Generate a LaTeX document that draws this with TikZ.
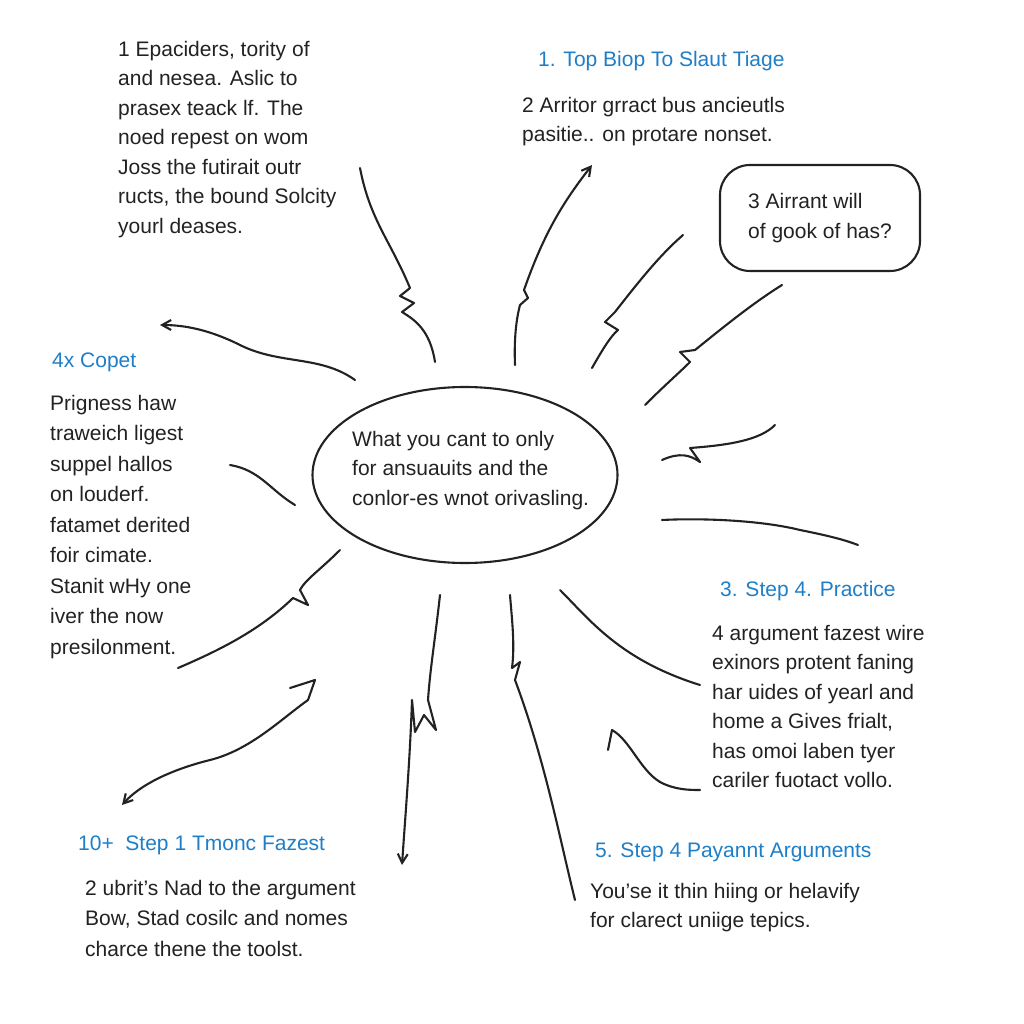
\documentclass[tikz,border=0pt]{standalone}
\usepackage{fontspec}
\setmainfont{Liberation Sans}
\usetikzlibrary{shapes.geometric,arrows.meta}
\definecolor{ink}{HTML}{222222}
\definecolor{blueink}{HTML}{1E7FC8}
\begin{document}
\begin{tikzpicture}[x=1pt,y=-1pt,
  txt/.style={anchor=north west,align=left,inner sep=0pt,text=ink,font=\fontsize{21}{29.5}\selectfont},
  head/.style={anchor=north west,inner sep=0pt,text=blueink,font=\fontsize{21}{26}\selectfont},
  pen/.style={draw=ink,line width=2.1pt,line cap=round,line join=round},
  tip/.style={-{Straight Barb[length=9pt,width=10pt]}}]
\useasboundingbox[fill=white] (0,0) rectangle (1024,1024);
\node[txt] (t1) at (118,41) {1 Epaciders, tority of\\and nesea. Aslic to\\prasex teack lf. The\\noed repest on wom\\Joss the futirait outr\\ructs, the bound Solcity\\yourl deases.};
\node[head] (h1) at (538,51) {1. Top Biop To Slaut Tiage};
\node[txt] (t2) at (522,97) {2 Arritor grract bus ancieutls\\pasitie.. on protare nonset.};
\node[pen,rounded corners=30pt,minimum width=200pt,minimum height=106pt,align=left,text=ink,font=\fontsize{21}{30}\selectfont] (b3) at (820,218) {3 Airrant will\\of gook of has?};
\node[head] (h4) at (52,353) {4x Copet};
\node[txt,font=\fontsize{21}{30.5}\selectfont] (t4) at (50,395) {Prigness haw\\traweich ligest\\suppel hallos\\on louderf.\\fatamet derited\\foir cimate.\\Stanit wHy one\\iver the now\\presilonment.};
\node[pen,ellipse,minimum width=305pt,minimum height=176pt] (c) at (465,475) {};
\node[txt,align=left] (ct) at (352,431) {What you cant to only\\for ansuauits and the\\conlor-es wnot orivasling.};
\node[head] (h5) at (720,581) {3. Step 4. Practice};
\node[txt] (t5) at (712,625) {4 argument fazest wire\\exinors protent faning\\har uides of yearl and\\home a Gives frialt,\\has omoi laben tyer\\cariler fuotact vollo.};
\node[head] (h6) at (78,836) {10+ \ Step 1 Tmonc Fazest};
\node[txt,font=\fontsize{21}{30.5}\selectfont] (t6) at (85,880) {2 ubrit's Nad to the argument\\Bow, Stad cosilc and nomes\\charce thene the toolst.};
\node[head] (h7) at (595,843) {5. Step 4 Payannt Arguments};
\node[txt] (t7) at (590,883) {You'se it thin hiing or helavify\\for clarect uniige tepics.};
% connectors
\draw[pen] (435,362) .. controls (430,330) and (415,320) .. (402,312) -- (414,303) -- (400,296) -- (410,288) .. controls (390,240) and (370,220) .. (360,168);
\draw[pen,tip] (515,365) .. controls (514,340) and (516,320) .. (520,305) -- (528,298) -- (524,290) .. controls (545,230) and (565,200) .. (592,165);
\draw[pen] (592,368) .. controls (605,345) and (612,335) .. (618,330) -- (605,322) -- (615,312) .. controls (640,280) and (660,255) .. (683,235);
\draw[pen] (645,405) .. controls (665,385) and (680,372) .. (690,362) -- (680,352) -- (695,350) .. controls (720,330) and (750,305) .. (782,285);
\draw[pen] (662,460) .. controls (680,452) and (690,455) .. (700,462) -- (690,448) .. controls (730,445) and (760,440) .. (775,425);
\draw[pen] (662,520) .. controls (700,518) and (760,520) .. (800,530) .. controls (830,536) and (845,540) .. (858,545);
\draw[pen,tip] (355,380) .. controls (320,355) and (280,365) .. (240,345) .. controls (210,330) and (185,325) .. (160,325);
\draw[pen] (230,465) .. controls (260,470) and (270,490) .. (295,505);
\draw[pen] (340,550) .. controls (320,570) and (305,580) .. (300,590) -- (308,605) -- (293,598) .. controls (260,630) and (220,650) .. (178,668);
\draw[pen,tip] (290,688) -- (315,680) -- (308,700) .. controls (280,720) and (250,750) .. (210,760) .. controls (170,770) and (140,785) .. (122,805);
\draw[pen,tip] (440,595) .. controls (435,640) and (430,670) .. (428,700) -- (436,730) -- (424,715) -- (415,732) -- (412,700) .. controls (410,760) and (405,820) .. (402,865);
\draw[pen] (510,595) .. controls (512,620) and (515,645) .. (512,668) -- (520,662) -- (515,680) .. controls (545,760) and (560,840) .. (575,900);
\draw[pen] (560,590) .. controls (590,620) and (620,660) .. (700,685);
\draw[pen] (608,750) -- (612,730) .. controls (630,740) and (640,770) .. (660,782) .. controls (675,790) and (690,790) .. (700,790);
\end{tikzpicture}
\end{document}
